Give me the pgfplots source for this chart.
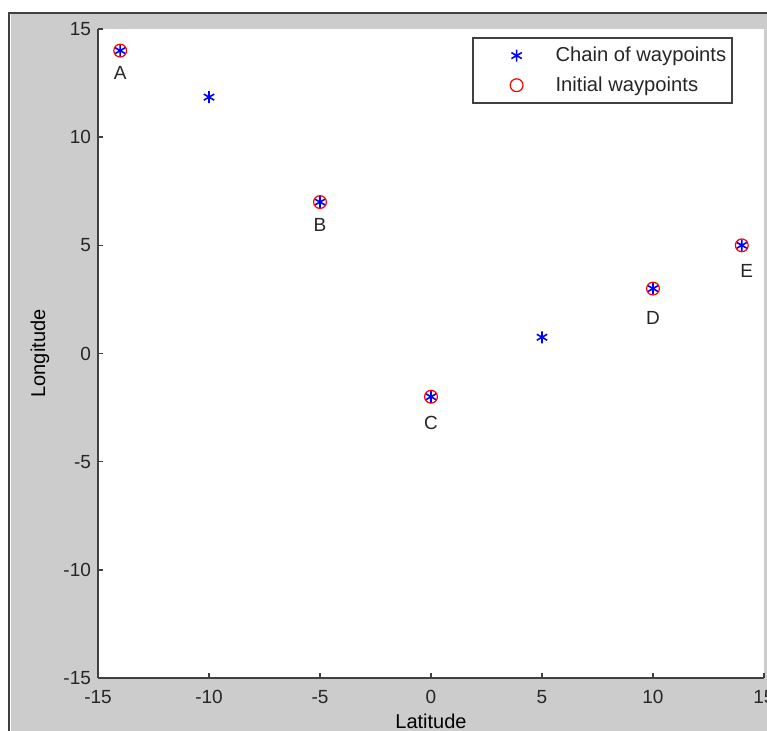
\documentclass[border=0pt]{standalone}
\usepackage{pgfplots}
\pgfplotsset{compat=1.18}
\usepackage{fontspec}
\setmainfont{Liberation Sans}
\definecolor{figgray}{RGB}{204,204,204}
\definecolor{axgray}{RGB}{64,64,64}
\pgfplotsset{mylegimg/.style={legend image code/.code={\path (0cm,0cm) (1.32cm,0cm); \draw[mark repeat=2,mark phase=2,##1] plot coordinates {(0cm,0cm) (0.72cm,0cm) (1.32cm,0cm)};}}}
\begin{document}
\begin{tikzpicture}
\useasboundingbox (-49pt,-26.5pt) rectangle (334.5pt,339pt);
\fill[figgray] (-43.5pt,-26.5pt) rectangle (334.5pt,332pt);
\draw[axgray,line width=0.6pt] (-44.5pt,-26.5pt) -- (-44.5pt,332.5pt) -- (334.5pt,332.5pt);
\begin{axis}[
  at={(0pt,0pt)}, anchor=south west,
  scale only axis,
  width=333pt, height=324.5pt,
  xmin=-15, xmax=15, ymin=-15, ymax=15,
  xtick={-15,-10,...,15}, ytick={-15,-10,...,15},
  axis lines*=left,
  axis line style={axgray, line width=0.75pt, -},
  tick align=inside,
  major tick length=2.5pt,
  every tick/.style={axgray, line width=0.75pt},
  axis background/.style={fill=white},
  /pgf/number format/assume math mode=true,
  tick label style={font=\fontsize{9.5}{11}\selectfont, text=black!85},
  xticklabel style={yshift=-2.5pt},
  xlabel={Latitude}, ylabel={Longitude},
  label style={font=\fontsize{9.5}{11}\selectfont, text=black!85},
  every axis x label/.style={at={(axis description cs:0.5,-0.0663)}, anchor=center},
  every axis y label/.style={at={(axis description cs:-0.087,0.5)}, rotate=90, anchor=center},
  clip=false,
  legend cell align=left,
  legend style={at={(axis description cs:0.9535,0.9877)}, anchor=north east,
    draw=axgray, line width=0.8pt, fill=white, inner xsep=1pt, inner ysep=2.5pt,
    font=\fontsize{10.1}{11}\selectfont, text=black!85,
    row sep=2pt, /tikz/every even column/.append style={column sep=0pt}},
]
\addplot[only marks, blue, mark=asterisk, mark size=3pt, line width=0.8pt, mylegimg]
  coordinates {(-14,14) (-10,11.85) (-5,7) (0,-2) (5,0.75) (10,3) (14,5)};
\addlegendentry{Chain of waypoints\hspace{5.5pt}}
\addplot[only marks, red, mark=o, mark size=3.2pt, line width=0.6pt, mylegimg]
  coordinates {(-14,14) (-5,7) (0,-2) (10,3) (14,5)};
\addlegendentry{Initial waypoints}
\node[font=\fontsize{9.5}{11}\selectfont, text=black!85] at (axis cs:-14,14) [yshift=-11pt] {A};
\node[font=\fontsize{9.5}{11}\selectfont, text=black!85] at (axis cs:-5,7) [yshift=-11.5pt] {B};
\node[font=\fontsize{9.5}{11}\selectfont, text=black!85] at (axis cs:0,-2) [yshift=-13pt] {C};
\node[font=\fontsize{9.5}{11}\selectfont, text=black!85] at (axis cs:10,3) [yshift=-14.5pt] {D};
\node[font=\fontsize{9.5}{11}\selectfont, text=black!85] at (axis cs:14,5) [xshift=2.5pt, yshift=-13pt] {E};
\end{axis}
\end{tikzpicture}
\end{document}
